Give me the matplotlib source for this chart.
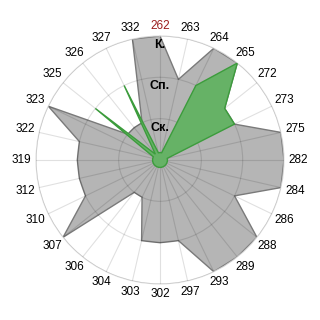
import matplotlib
matplotlib.use('Agg')
import matplotlib.pyplot as plt
import numpy as np

# categories clockwise from the top
cats = ["262", "263", "264", "265", "272", "273", "275", "282", "284", "286",
        "288", "289", "293", "297", "302", "303", "304", "306", "307", "310",
        "312", "319", "322", "323", "325", "326", "327", "332"]
# gray series (1 = Ск., 2 = Сп., 3 = К.)
gray_vals = [3, 2, 3, 3, 2, 2, 3, 3, 3, 2,
             3, 3, 3, 2, 2, 2, 1, 1, 3, 2,
             2, 2, 2, 3, 1, 1, 1, 3]
# green series
green_vals = [0.18, 0.18, 2, 3, 2, 2, 0.18, 0.18, 0.18, 0.18,
              0.18, 0.18, 0.18, 0.18, 0.18, 0.18, 0.18, 0.18, 0.18, 0.18,
              0.18, 0.18, 0.18, 0.18, 2, 0.18, 2, 0.18]
ring_vals = [1, 2, 3]
ring_labels = ["Ск.", "Сп.", "К."]

plt.rcParams['font.family'] = ['Liberation Sans', 'DejaVu Sans']

n = len(cats)
theta = np.arange(n) * 2 * np.pi / n
th_c = np.append(theta, theta[0])

fig = plt.figure(figsize=(3.2, 3.2), dpi=100)
ax = fig.add_axes([0.1125, 0.1125, 0.775, 0.775], projection='polar')
ax.set_theta_zero_location('N')
ax.set_theta_direction(-1)

ax.fill(th_c, np.append(gray_vals, gray_vals[0]), facecolor='#b5b5b5',
        edgecolor='#7a7a7a', linewidth=1.0, zorder=2)
ax.fill(th_c, np.append(green_vals, green_vals[0]), facecolor='#66b266',
        edgecolor='#3c9c3c', linewidth=1.0, zorder=3)

ax.set_ylim(0, 3)
ax.set_yticks(ring_vals)
ax.set_yticklabels([])
ax.set_xticks(theta)
ax.set_xticklabels([])
ax.set_axisbelow(False)
ax.grid(True, color='black', alpha=0.12, linewidth=0.8)
ax.spines['polar'].set_color('#dddddd')
ax.spines['polar'].set_linewidth(0.8)

# category labels around the circle (radius 124 px -> 3)
for i, (t, lab) in enumerate(zip(theta, cats)):
    r = 3 * (134 + 4.5 * abs(np.sin(t))) / 124
    ax.text(t, r, lab, ha='center', va='center', fontsize=8.5,
            color='#9b1c1c' if i == 0 else 'black', clip_on=False)

for v, lab in zip(ring_vals, ring_labels):
    ax.text(0, v - 0.22, lab, ha='center', va='center', fontsize=9,
            fontweight='bold', zorder=5)

plt.savefig("out.png", dpi=100)
